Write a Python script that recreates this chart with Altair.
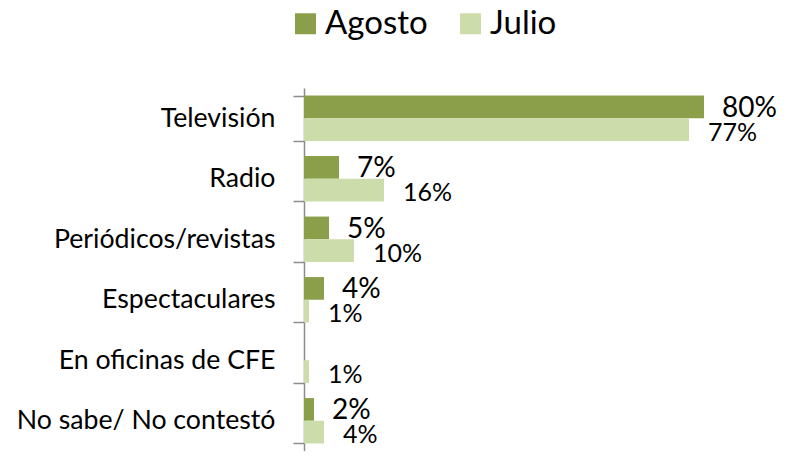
import altair as alt
import pandas as pd

categories = ["Televisión", "Radio", "Periódicos/revistas", "Espectaculares",
              "En oficinas de CFE", "No sabe/ No contestó"]
series_names = ["Agosto", "Julio"]
agosto = [80, 7, 5, 4, 0, 2]
julio = [77, 16, 10, 1, 1, 4]
colors = ["#8B9F4B", "#CDDCAB"]

rows = []
for c, a, j in zip(categories, agosto, julio):
    rows.append({"category": c, "series": "Agosto", "value": a})
    rows.append({"category": c, "series": "Julio", "value": j})
df = pd.DataFrame(rows)

FONT = "Lato"

base = alt.Chart(df).encode(
    y=alt.Y("category:N", sort=categories,
            scale=alt.Scale(paddingInner=0.25, paddingOuter=0.125),
            axis=alt.Axis(title=None, tickBand="extent", tickSize=11, labelPadding=18,
                          labelFontSize=26.7, labelFont=FONT, labelColor="black",
                          domainColor="#8c8c8c", tickColor="#8c8c8c",
                          domainWidth=1.5, tickWidth=1.5, labelLimit=400)),
    yOffset=alt.YOffset("series:N", sort=series_names,
                        scale=alt.Scale(paddingInner=0, paddingOuter=0)),
    x=alt.X("value:Q", scale=alt.Scale(domain=[0, 90]), axis=None),
)

bars = base.mark_bar().encode(
    color=alt.Color("series:N", sort=series_names,
                    scale=alt.Scale(domain=series_names, range=colors),
                    legend=alt.Legend(title=None, orient="none", legendX=-15, legendY=-81,
                                      direction="horizontal", symbolType="square",
                                      symbolSize=441, symbolStrokeWidth=0,
                                      labelFontSize=33, labelFont=FONT, labelOffset=3,
                                      columnPadding=26, padding=0, labelColor="black"))
)

lab_a = base.transform_filter(
    (alt.datum.series == "Agosto") & (alt.datum.value > 0)
).transform_calculate(lbl="datum.value + '%'").mark_text(
    align="left", dx=18, dy=2, fontSize=28, font=FONT, color="black"
).encode(text="lbl:N")

lab_j = base.transform_filter(
    (alt.datum.series == "Julio") & (alt.datum.value > 0)
).transform_calculate(lbl="datum.value + '%'").mark_text(
    align="left", dx=19, dy=3, fontSize=25, font=FONT, color="black"
).encode(text="lbl:N")

chart = alt.layer(bars, lab_a, lab_j).properties(
    width=450, height=363,
    autosize=alt.AutoSizeParams(type="none"),
    padding={"left": 296, "top": 80, "right": 30, "bottom": 0},
).configure_view(stroke=None)

chart.save("out.html", embed_options={"renderer": "svg", "actions": False})
